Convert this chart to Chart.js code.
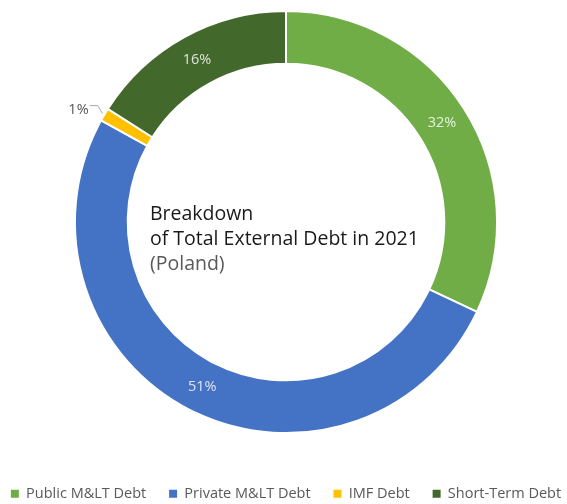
<!DOCTYPE html>
<html>
<head>
<meta charset="utf-8">
<script src="https://cdn.jsdelivr.net/npm/chart.js@4/dist/chart.umd.min.js"></script>
<style>
  html, body { margin: 0; padding: 0; background: #fff; overflow: hidden; }
  #wrap { width: 567px; height: 504px; overflow: hidden; }
</style>
</head>
<body>
<div id="wrap"><canvas id="graficoDeuda" width="567" height="511"></canvas></div>
<script>
const categorias = ["Public M&LT Debt", "Private M&LT Debt", "IMF Debt", "Short-Term Debt"];
const porcentajes = [32, 51, 1, 16];
const colores = ["#70AD47", "#4472C4", "#FFC000", "#43682B"];
const tituloCentro = ["Breakdown", "of Total External Debt in 2021", "(Poland)"];

// porcentajes sobre el anillo; los sectores pequeños van fuera con línea guía
const etiquetasPct = {
  id: "etiquetasPct",
  afterDatasetsDraw(chart) {
    const ctx = chart.ctx;
    const meta = chart.getDatasetMeta(0);
    const total = porcentajes.reduce((a, b) => a + b, 0);
    ctx.save();
    ctx.font = "14.5px 'Open Sans'";
    meta.data.forEach((arc, i) => {
      const pct = (porcentajes[i] / total) * 100;
      const texto = Math.round(pct) + "%";
      if (pct >= 3) {
        const p = arc.getCenterPoint();
        ctx.fillStyle = "rgba(255,255,255,0.82)";
        ctx.textAlign = "center";
        ctx.textBaseline = "middle";
        ctx.fillText(texto, p.x, p.y);
      } else {
        const medio = (arc.startAngle + arc.endAngle) / 2;
        const x0 = arc.x + Math.cos(medio) * (arc.outerRadius + 2);
        const y0 = arc.y + Math.sin(medio) * (arc.outerRadius + 2);
        const x1 = x0 - 5, y1 = y0 - 8;
        const x2 = x1 - 8;
        ctx.strokeStyle = "#a6a6a6";
        ctx.lineWidth = 1;
        ctx.beginPath();
        ctx.moveTo(x0, y0);
        ctx.lineTo(x1, y1);
        ctx.lineTo(x2, y1);
        ctx.stroke();
        ctx.fillStyle = "#595959";
        ctx.textAlign = "right";
        ctx.textBaseline = "middle";
        ctx.fillText(texto, x2 - 1, y1 + 4);
      }
    });
    ctx.restore();
  },
};

// título dentro del hueco del anillo
const textoCentro = {
  id: "textoCentro",
  afterDraw(chart) {
    const ctx = chart.ctx;
    const arc = chart.getDatasetMeta(0).data[0];
    const x = arc.x - 136;
    ctx.save();
    ctx.font = "19.5px 'Open Sans'";
    ctx.textAlign = "left";
    ctx.textBaseline = "alphabetic";
    tituloCentro.forEach((linea, i) => {
      ctx.fillStyle = i < 2 ? "#1a1a1a" : "#595959";
      ctx.fillText(linea, x, arc.y - 2 + i * 25);
    });
    ctx.restore();
  },
};

const ctx = document.getElementById("graficoDeuda").getContext("2d");
new Chart(ctx, {
  type: "doughnut",
  data: {
    labels: categorias,
    datasets: [
      {
        data: porcentajes,
        backgroundColor: colores,
        borderColor: "#ffffff",
        borderWidth: 2,
        hoverOffset: 0,
      },
    ],
  },
  options: {
    responsive: false,
    animation: false,
    events: [],
    cutout: "75%",
    layout: { padding: { top: 10, left: 5, right: 0, bottom: 0 } },
    plugins: {
      tooltip: { enabled: false },
      legend: {
        position: "bottom",
        // título vacío: sólo deja aire entre el anillo y la leyenda
        title: { display: true, text: "", font: { size: 12 }, padding: { top: 34, bottom: 0 } },
        labels: {
          boxWidth: 8,
          boxHeight: 8,
          padding: 4,
          color: "#595959",
          font: { family: "'Open Sans'", size: 14.5 },
          // espacios al final para separar las entradas sin que la leyenda salte de línea
          generateLabels(chart) {
            const base = Chart.overrides.doughnut.plugins.legend.labels.generateLabels(chart);
            return base.map((item, i) => ({
              ...item,
              text: i < base.length - 1 ? item.text + "     " : item.text,
              lineWidth: 0,
            }));
          },
        },
      },
    },
  },
  plugins: [etiquetasPct, textoCentro],
});
</script>
</body>
</html>
